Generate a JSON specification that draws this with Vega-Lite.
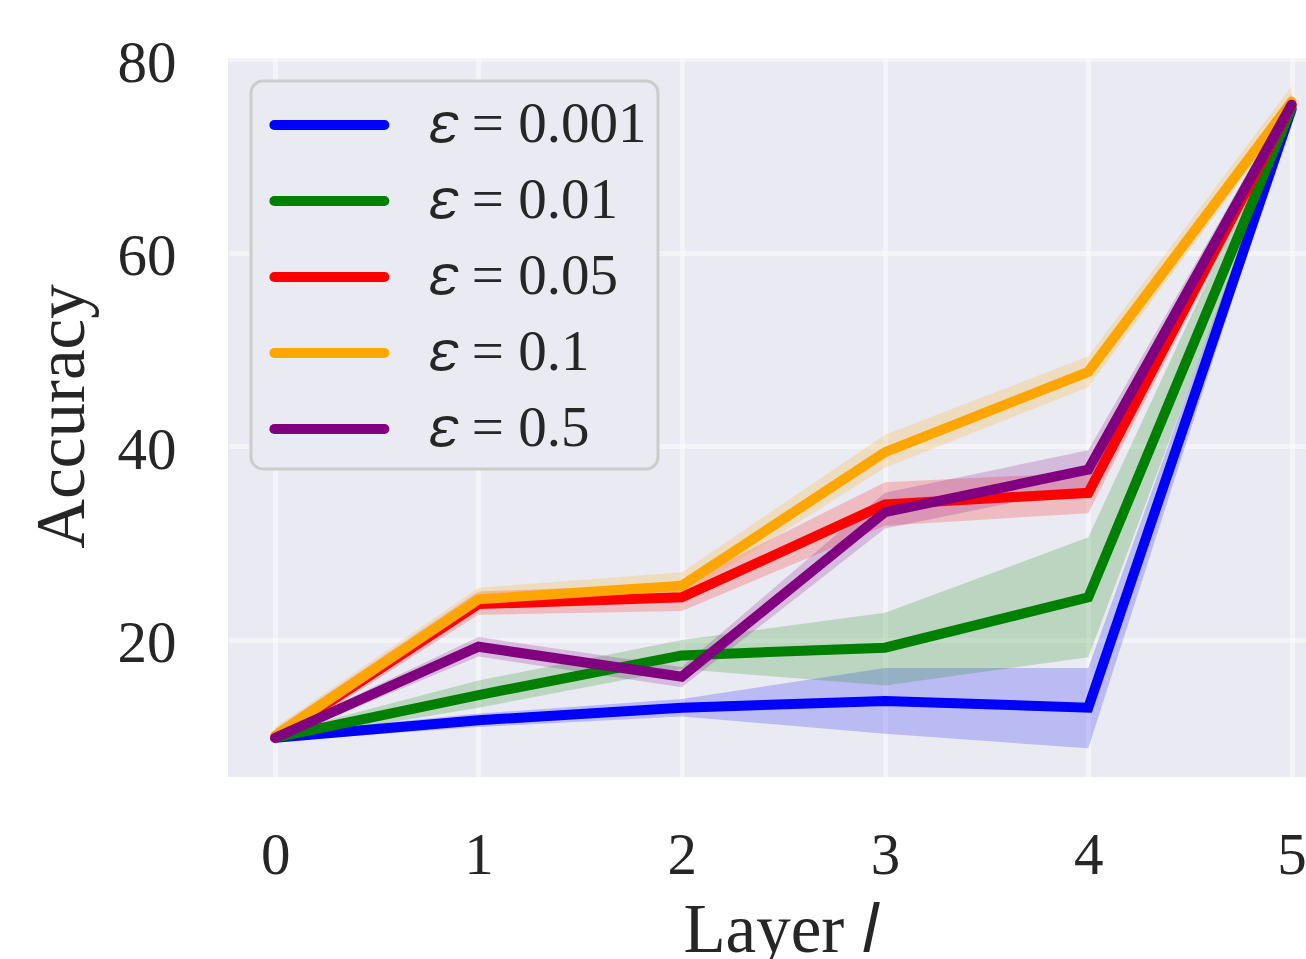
{
  "$schema": "https://vega.github.io/schema/vega-lite/v6.json",
  "autosize": {"type": "none"},
  "width": 1078,
  "height": 719,
  "padding": {"left": 228, "top": 58, "right": 0, "bottom": 182},
  "background": "white",
  "config": {
    "view": {"fill": "#EAEAF2", "stroke": null},
    "font": "Liberation Serif",
    "axis": {
      "domain": false, "ticks": false, "tickSize": 0, "grid": true,
      "gridColor": "white", "gridOpacity": 0.45, "gridWidth": 5,
      "labelFont": "Liberation Serif", "labelFontSize": 59, "labelColor": "#262626",
      "titleFont": "Liberation Serif", "titleFontSize": 69, "titleColor": "#262626", "titleFontWeight": "normal"
    }
  },
  "data": {"values": [
    {"eps": "𝜀 = 0.001", "layer": 0, "acc": 9.9, "lo": 9.5, "hi": 10.3},
    {"eps": "𝜀 = 0.001", "layer": 1, "acc": 11.7, "lo": 11.0, "hi": 12.4},
    {"eps": "𝜀 = 0.001", "layer": 2, "acc": 13.0, "lo": 12.1, "hi": 13.9},
    {"eps": "𝜀 = 0.001", "layer": 3, "acc": 13.7, "lo": 10.3, "hi": 17.1},
    {"eps": "𝜀 = 0.001", "layer": 4, "acc": 13.0, "lo": 8.8, "hi": 17.1},
    {"eps": "𝜀 = 0.001", "layer": 5, "acc": 74.8, "lo": 74.2, "hi": 75.5},
    {"eps": "𝜀 = 0.01", "layer": 0, "acc": 9.9, "lo": 9.5, "hi": 10.3},
    {"eps": "𝜀 = 0.01", "layer": 1, "acc": 14.3, "lo": 13.0, "hi": 15.8},
    {"eps": "𝜀 = 0.01", "layer": 2, "acc": 18.4, "lo": 17.0, "hi": 20.0},
    {"eps": "𝜀 = 0.01", "layer": 3, "acc": 19.2, "lo": 15.3, "hi": 22.8},
    {"eps": "𝜀 = 0.01", "layer": 4, "acc": 24.4, "lo": 18.2, "hi": 30.6},
    {"eps": "𝜀 = 0.01", "layer": 5, "acc": 75.0, "lo": 74.4, "hi": 75.8},
    {"eps": "𝜀 = 0.05", "layer": 0, "acc": 9.9, "lo": 9.2, "hi": 10.8},
    {"eps": "𝜀 = 0.05", "layer": 1, "acc": 23.7, "lo": 22.6, "hi": 25.0},
    {"eps": "𝜀 = 0.05", "layer": 2, "acc": 24.4, "lo": 23.0, "hi": 25.8},
    {"eps": "𝜀 = 0.05", "layer": 3, "acc": 34.0, "lo": 31.8, "hi": 36.3},
    {"eps": "𝜀 = 0.05", "layer": 4, "acc": 35.2, "lo": 33.1, "hi": 37.3},
    {"eps": "𝜀 = 0.05", "layer": 5, "acc": 75.3, "lo": 74.5, "hi": 76.5},
    {"eps": "𝜀 = 0.1", "layer": 0, "acc": 10.1, "lo": 9.4, "hi": 11.0},
    {"eps": "𝜀 = 0.1", "layer": 1, "acc": 24.2, "lo": 23.2, "hi": 25.4},
    {"eps": "𝜀 = 0.1", "layer": 2, "acc": 25.6, "lo": 24.5, "hi": 27.0},
    {"eps": "𝜀 = 0.1", "layer": 3, "acc": 39.4, "lo": 37.8, "hi": 41.2},
    {"eps": "𝜀 = 0.1", "layer": 4, "acc": 47.7, "lo": 46.1, "hi": 49.3},
    {"eps": "𝜀 = 0.1", "layer": 5, "acc": 75.6, "lo": 74.6, "hi": 77.2},
    {"eps": "𝜀 = 0.5", "layer": 0, "acc": 9.9, "lo": 9.5, "hi": 10.3},
    {"eps": "𝜀 = 0.5", "layer": 1, "acc": 19.3, "lo": 18.3, "hi": 20.3},
    {"eps": "𝜀 = 0.5", "layer": 2, "acc": 16.2, "lo": 15.1, "hi": 17.2},
    {"eps": "𝜀 = 0.5", "layer": 3, "acc": 33.2, "lo": 31.5, "hi": 35.2},
    {"eps": "𝜀 = 0.5", "layer": 4, "acc": 37.6, "lo": 35.8, "hi": 39.6},
    {"eps": "𝜀 = 0.5", "layer": 5, "acc": 75.3, "lo": 74.5, "hi": 76.2}
  ]},
  "encoding": {
    "x": {
      "field": "layer", "type": "quantitative",
      "scale": {"domain": [-0.232, 5.071], "nice": false, "zero": false},
      "axis": {
        "values": [0, 1, 2, 3, 4, 5], "format": "d", "title": "Layer 𝑙",
        "labelPadding": 96, "labelBaseline": "alphabetic", "labelFlush": false, "labelOverlap": false,
        "titleX": 553, "titleY": 174, "titleBaseline": "alphabetic", "titleAlign": "center", "titleAnchor": "start"
      }
    }
  },
  "layer": [
    {
      "mark": {"type": "area", "opacity": 0.2},
      "encoding": {
        "y": {
          "field": "lo", "type": "quantitative", "stack": null,
          "scale": {"domain": [5.84, 80.12], "nice": false, "zero": false},
          "axis": {
            "values": [20, 40, 60, 80], "title": "Accuracy",
            "labelPadding": 52, "labelBaseline": "alphabetic", "labelOffset": 22, "labelFlush": false, "labelOverlap": false,
            "titleX": -145, "titleY": 358, "titleAngle": -90, "titleBaseline": "alphabetic", "titleAlign": "center", "titleAnchor": "start"
          }
        },
        "y2": {"field": "hi"},
        "fill": {
          "field": "eps", "type": "nominal", "legend": null,
          "scale": {"range": ["#0000FF", "#008000", "#FF0000", "#FFA500", "#800080"]}
        }
      }
    },
    {
      "mark": {"type": "line", "strokeWidth": 10, "strokeCap": "round"},
      "encoding": {
        "y": {"field": "acc", "type": "quantitative"},
        "color": {
          "field": "eps", "type": "nominal",
          "scale": {
            "domain": ["𝜀 = 0.001", "𝜀 = 0.01", "𝜀 = 0.05", "𝜀 = 0.1", "𝜀 = 0.5"],
            "range": ["#0000FF", "#008000", "#FF0000", "#FFA500", "#800080"]
          },
          "legend": {
            "orient": "none", "legendX": 23, "legendY": 23, "title": null,
            "symbolType": "M-0.75,0H3.25", "symbolSize": 3025, "symbolStrokeWidth": 10,
            "symbolFillColor": "transparent",
            "labelFont": "Liberation Serif", "labelFontSize": 57, "labelColor": "#262626", "labelLimit": 0,
            "fillColor": "#EAEAF2", "strokeColor": "#CCCCCC", "cornerRadius": 12,
            "padding": 11.5, "labelOffset": 102, "rowPadding": 15,
            "encode": {
              "symbols": {"update": {"strokeCap": {"value": "round"}, "fill": {"value": "transparent"}}},
              "legend": {"update": {"strokeWidth": {"value": 3}}}
            }
          }
        }
      }
    }
  ]
}
